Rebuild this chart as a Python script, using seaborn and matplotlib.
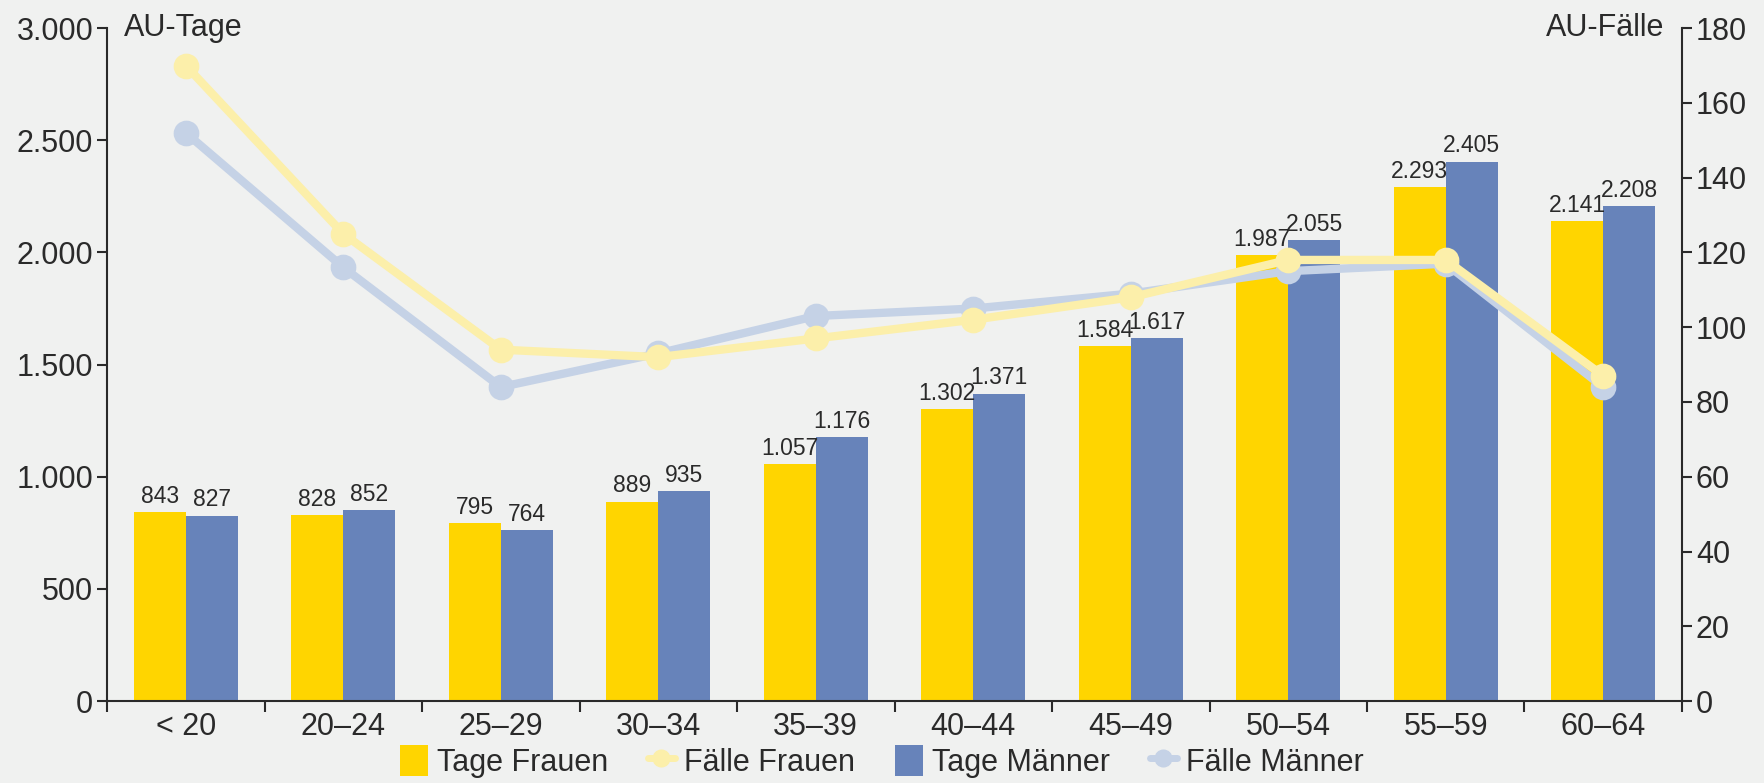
"""
AU-Tage und AU-Fälle nach Altersgruppen und Geschlecht.
"""

import matplotlib
matplotlib.use("Agg")

import matplotlib.pyplot as plt
import numpy as np
import pandas as pd
import seaborn as sns
from matplotlib.lines import Line2D
from matplotlib.patches import Patch
from matplotlib.ticker import FuncFormatter, MultipleLocator, FixedLocator

# ── Data ──────────────────────────────────────────────────────────────
groups = ["< 20", "20–24", "25–29", "30–34", "35–39",
          "40–44", "45–49", "50–54", "55–59", "60–64"]
tage_frauen = [843, 828, 795, 889, 1057, 1302, 1584, 1987, 2293, 2141]
tage_maenner = [827, 852, 764, 935, 1176, 1371, 1617, 2055, 2405, 2208]
faelle_frauen = [170, 125, 94, 92, 97, 102, 108, 118, 118, 87]
faelle_maenner = [152, 116, 84, 93, 103, 105, 109, 115, 117, 84]

# ── Style ─────────────────────────────────────────────────────────────
BG = "#f0f1f0"
YELLOW = "#ffd500"
BLUE = "#6783ba"
LIGHT_YELLOW = "#fcefaa"
LIGHT_BLUE = "#c5d2e6"
INK = "#2a2a2a"
FS = 22

sns.set_style("ticks")
plt.rcParams["font.family"] = ["Liberation Sans", "DejaVu Sans"]
plt.rcParams["text.color"] = INK
plt.rcParams["axes.labelcolor"] = INK


def de_fmt(v, _pos=None):
    return f"{int(round(v)):,}".replace(",", ".")


tage = pd.DataFrame({
    "gruppe": groups * 2,
    "wert": tage_frauen + tage_maenner,
    "serie": ["Tage Frauen"] * len(groups) + ["Tage Männer"] * len(groups),
})
faelle = pd.DataFrame({
    "gruppe": groups * 2,
    "wert": faelle_maenner + faelle_frauen,
    "serie": ["Fälle Männer"] * len(groups) + ["Fälle Frauen"] * len(groups),
})

fig = plt.figure(figsize=(17.64, 7.83), dpi=100, facecolor=BG)
ax = fig.add_axes([0.0607, 0.1047, 0.8928, 0.8593])
ax.set_facecolor(BG)

# ── Bars ──────────────────────────────────────────────────────────────
sns.barplot(
    data=tage, x="gruppe", y="wert", hue="serie", order=groups,
    hue_order=["Tage Frauen", "Tage Männer"],
    palette=[YELLOW, BLUE], width=0.66, gap=0, saturation=1,
    errorbar=None, legend=False, ax=ax, linewidth=0,
)
for cont, vals in zip(ax.containers, [tage_frauen, tage_maenner]):
    ax.bar_label(cont, labels=[de_fmt(v) for v in vals],
                 padding=3, fontsize=16.5, color=INK)

ax.set_ylim(0, 3000)
ax.set_xlim(-0.5, len(groups) - 0.5)
ax.yaxis.set_major_locator(MultipleLocator(500))
ax.yaxis.set_major_formatter(FuncFormatter(de_fmt))
ax.set_xlabel("")
ax.set_ylabel("")

# ── Lines (right axis) ────────────────────────────────────────────────
ax2 = ax.twinx()
sns.pointplot(
    data=faelle, x="gruppe", y="wert", hue="serie", order=groups,
    hue_order=["Fälle Männer", "Fälle Frauen"],
    palette=[LIGHT_BLUE, LIGHT_YELLOW], markers="o", dodge=False,
    errorbar=None, legend=False, ax=ax2,
    linewidth=6, markersize=14,
)
ax2.set_ylim(0, 180)
ax2.yaxis.set_major_locator(MultipleLocator(20))
ax2.set_ylabel("")
ax2.set_xlim(-0.5, len(groups) - 0.5)

# ── Axes cosmetics ────────────────────────────────────────────────────
for a in (ax, ax2):
    a.spines["top"].set_visible(False)
    for s in a.spines.values():
        s.set_color(INK)
        s.set_linewidth(1.5)
ax.spines["right"].set_visible(False)
ax2.spines["left"].set_visible(False)
ax2.spines["bottom"].set_visible(False)

ax.tick_params(axis="y", labelsize=FS, length=7, width=1.5, color=INK,
               labelcolor=INK, pad=3)
ax2.tick_params(axis="y", labelsize=FS, length=7, width=1.5, color=INK,
                labelcolor=INK, pad=3)
ax.set_xticks(range(len(groups)))
ax.set_xticklabels(groups)
ax.tick_params(axis="x", which="major", length=0, labelsize=FS,
               labelcolor=INK, pad=8)
ax.xaxis.set_minor_locator(FixedLocator(np.arange(-0.5, len(groups), 1.0)))
ax.tick_params(axis="x", which="minor", length=8, width=1.5, color=INK)

ax.text(0.011, 1.0, "AU-Tage", transform=ax.transAxes, ha="left",
        va="center", fontsize=FS, color=INK)
ax.text(0.989, 1.0, "AU-Fälle", transform=ax.transAxes, ha="right",
        va="center", fontsize=FS, color=INK)

# ── Legend ────────────────────────────────────────────────────────────
handles = [
    Patch(facecolor=YELLOW, edgecolor="none"),
    Line2D([], [], color=LIGHT_YELLOW, lw=5, marker="o", markersize=12),
    Patch(facecolor=BLUE, edgecolor="none"),
    Line2D([], [], color=LIGHT_BLUE, lw=5, marker="o", markersize=12),
]
fig.legend(handles, ["Tage Frauen", "Fälle Frauen", "Tage Männer", "Fälle Männer"],
           loc="center", bbox_to_anchor=(0.5, 0.028), ncol=4, frameon=False,
           fontsize=FS, handlelength=0.9, handleheight=1.2,
           handletextpad=0.3, columnspacing=1.3, borderaxespad=0)

fig.savefig("out.png", dpi=100, facecolor=BG)
